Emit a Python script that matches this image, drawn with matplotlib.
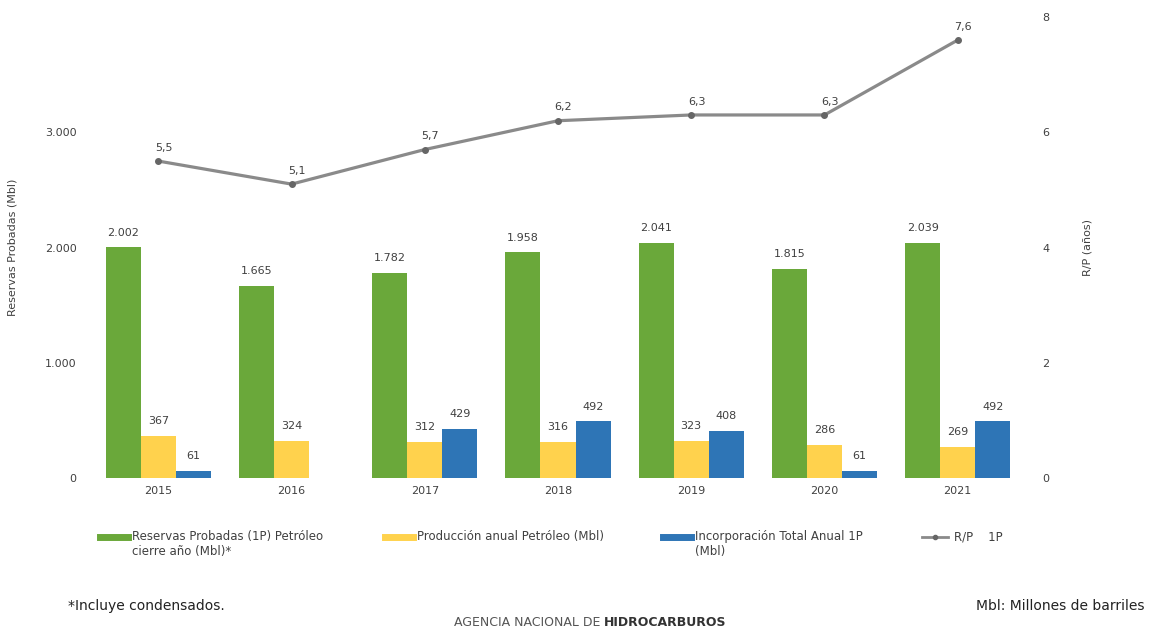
import matplotlib.pyplot as plt
import numpy as np
from matplotlib.lines import Line2D

# data
years = ["2015", "2016", "2017", "2018", "2019", "2020", "2021"]
reservas = [2002, 1665, 1782, 1958, 2041, 1815, 2039]
produccion = [367, 324, 312, 316, 323, 286, 269]
incorporacion = [61, 0, 429, 492, 408, 61, 492]
rp = [5.5, 5.1, 5.7, 6.2, 6.3, 6.3, 7.6]

verde = "#6aa83a"
amarillo = "#ffd24d"
azul = "#2e75b6"
gris = "#8a8a8a"
txt = "#404040"

plt.rcParams["font.family"] = "DejaVu Sans"

W, H = 1150, 630
fig = plt.figure(figsize=(11.5, 6.3), dpi=100)
ax = fig.add_axes([85 / W, 1 - 478 / H, (1031 - 85) / W, (478 - 17) / H])
ax2 = ax.twinx()

x = np.arange(len(years))
w = 0.263

def miles(v):
    return f"{v:,}".replace(",", ".")

b1 = ax.bar(x - w, reservas, w, color=verde)
b2 = ax.bar(x, produccion, w, color=amarillo)
b3 = ax.bar(x + w, [v if v else np.nan for v in incorporacion], w, color=azul)

for bars, vals in ((b1, reservas), (b2, produccion), (b3, incorporacion)):
    for rect, v in zip(bars, vals):
        if not v:
            continue
        ax.annotate(miles(v), (rect.get_x() + rect.get_width() / 2, v),
                    xytext=(0, 7), textcoords="offset points",
                    ha="center", va="bottom", fontsize=8, color=txt)

ax2.plot(x, rp, color=gris, lw=2.3, marker="o", ms=4, mfc="#666666", mec="#666666")
for xi, v in zip(x, rp):
    ax2.annotate(f"{v:.1f}".replace(".", ","), (xi, v), xytext=(4, 6),
                 textcoords="offset points", ha="center", va="bottom",
                 fontsize=8, color=txt)

ax.set_xlim(-0.55, len(years) - 0.45)
ax.set_ylim(0, 4000)
ax2.set_ylim(0, 8)
ax.set_yticks([0, 1000, 2000, 3000])
ax.set_yticklabels([miles(v) for v in [0, 1000, 2000, 3000]])
ax2.set_yticks([0, 2, 4, 6, 8])
ax.set_xticks(x)
ax.set_xticklabels(years)

for a in (ax, ax2):
    for s in a.spines.values():
        s.set_visible(False)
    a.tick_params(length=0, labelsize=8, colors=txt)
ax.tick_params(axis="y", pad=6)
ax2.tick_params(axis="y", pad=8)
ax.tick_params(axis="x", pad=6)

ax.set_ylabel("Reservas Probadas (Mbl)", fontsize=8, color=txt, labelpad=20)
ax2.set_ylabel("R/P (años)", fontsize=8, color=txt, labelpad=24)

# legend placed by hand (handle aligned with first text line)
ly = 1 - 537 / H
items = [
    (100, "line", verde, "Reservas Probadas (1P) Petróleo\ncierre año (Mbl)*"),
    (385, "line", amarillo, "Producción anual Petróleo (Mbl)"),
    (663, "line", azul, "Incorporación Total Anual 1P\n(Mbl)"),
    (922, "marker", gris, "R/P    1P"),
]
for px, kind, col, lab in items:
    if kind == "line":
        fig.add_artist(Line2D([px / W, (px + 28) / W], [ly, ly], color=col, lw=5,
                              transform=fig.transFigure))
    else:
        fig.add_artist(Line2D([px / W, (px + 26) / W], [ly, ly], color=col, lw=2,
                              transform=fig.transFigure))
        fig.add_artist(Line2D([(px + 13) / W], [ly], color="#666666", marker="o", ms=3,
                              transform=fig.transFigure))
    fig.text((px + 32) / W, ly + 7 / H, lab, fontsize=8.5, color=txt, va="top",
             ha="left", linespacing=1.25)

fig.text(68 / W, 1 - 606 / H, "*Incluye condensados.", fontsize=10, color="#222222",
         va="center")
fig.text(1145 / W, 1 - 606 / H, "Mbl: Millones de barriles", fontsize=10,
         color="#222222", va="center", ha="right")
fig.text(604 / W, 1 - 622 / H, "AGENCIA NACIONAL DE ", fontsize=9, color="#555555",
         va="center", ha="right")
fig.text(604 / W, 1 - 622 / H, "HIDROCARBUROS", fontsize=9, color="#333333",
         va="center", ha="left", fontweight="bold")

fig.savefig("out.png", dpi=100, facecolor="white")
